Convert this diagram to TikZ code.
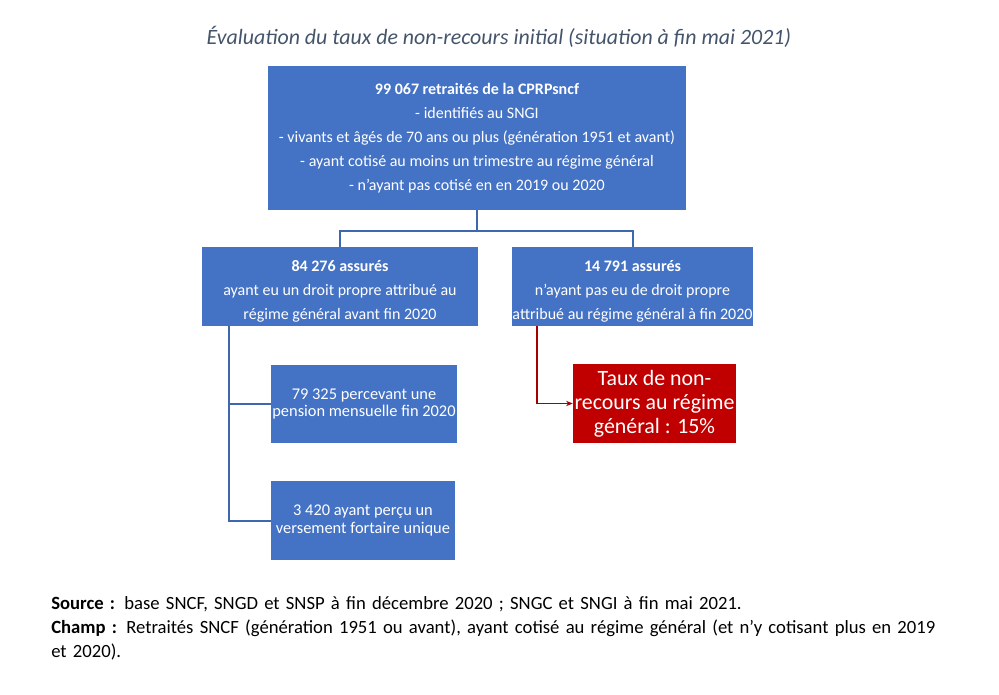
\documentclass[tikz,border=0pt]{standalone}
\usepackage{fontspec}
\setmainfont{Carlito}
\usetikzlibrary{arrows.meta, positioning}
\definecolor{boxblue}{HTML}{4472C4}
\definecolor{lineblue}{HTML}{3F67B0}
\definecolor{boxred}{HTML}{C00000}
\definecolor{linered}{HTML}{A50000}
\definecolor{titlegray}{HTML}{44546A}
\newcommand{\topgap}{\rule{0pt}{15pt}}

\begin{document}
\begin{tikzpicture}[x=0.75pt, y=-0.75pt, >={Stealth[length=5pt, width=4pt]},
    bluebox/.style={fill=boxblue, text=white, align=center, inner sep=0pt,
        font=\fontsize{12}{18}\selectfont},
    smallbox/.style={bluebox, font=\fontsize{12.3}{13.2}\selectfont},
    redbox/.style={fill=boxred, text=white, align=center, inner sep=0pt,
        font=\fontsize{16.4}{18}\selectfont},
    conn/.style={draw=lineblue, line width=1.5pt},
    redconn/.style={draw=linered, line width=1.2pt, ->}]
    \useasboundingbox (0,0) rectangle (999,695);
    % Nodes
    \node (title) at (499,37) {\fontsize{16.4}{19}\selectfont\itshape\color{titlegray}Évaluation du taux de non-recours initial (situation à fin mai 2021)};
    \node (top) [bluebox, minimum width=313.5pt, minimum height=108pt] at (477,138)
        {\textbf{99 067 retraités de la CPRPsncf}\\- identifiés au SNGI\\- vivants et âgés de 70 ans ou plus (génération 1951 et avant)\\- ayant cotisé au moins un trimestre au régime général\\- n'ayant pas cotisé en en 2019 ou 2020};
    \node (droit) [bluebox, minimum width=207pt, minimum height=59.25pt] at (340,286.5)
        {\topgap\textbf{84 276 assurés}\\ayant eu un droit propre attribué au\\régime général avant fin 2020};
    \node (sansdroit) [bluebox, minimum width=179.25pt, minimum height=59.25pt] at (632.5,286.5)
        {\topgap\textbf{14 791 assurés}\\n'ayant pas eu de droit propre\\attribué au régime général à fin 2020};
    \node (pension) [smallbox, minimum width=139.5pt, minimum height=58.5pt] at (364,404)
        {79 325 percevant une\\pension mensuelle fin 2020};
    \node (versement) [smallbox, minimum width=138pt, minimum height=59.25pt] at (363,520.5)
        {3 420 ayant perçu un\\versement fortaire unique};
    \node (taux) [redbox, minimum width=122.25pt, minimum height=59.25pt] at (654.5,403.5)
        {Taux de non-\\recours au régime\\général : 15\%};
    \node (notes) [anchor=north west, align=left, text width=700pt, inner sep=0pt,
        font=\fontsize{14}{18}\selectfont] at (51,596)
        {\textbf{Source :} base SNCF, SNGD et SNSP à fin décembre 2020 ; SNGC et SNGI à fin mai 2021.\\
        \textbf{Champ :} Retraités SNCF (génération 1951 ou avant), ayant cotisé au régime général (et n’y cotisant plus en 2019\\et 2020).};
    \coordinate (trunk) at (229,0);
    \coordinate (redx) at (537,0);

    % Edges
    \draw[conn] (top.south) -- ++(0,21) -| (droit.north);
    \draw[conn] (top.south) -- ++(0,21) -| (sansdroit.north);
    \draw[conn] (droit.south -| trunk) |- (pension.west);
    \draw[conn] (droit.south -| trunk) |- (versement.west);
    \draw[redconn] (sansdroit.south -| redx) |- (taux.west);
\end{tikzpicture}
\end{document}
